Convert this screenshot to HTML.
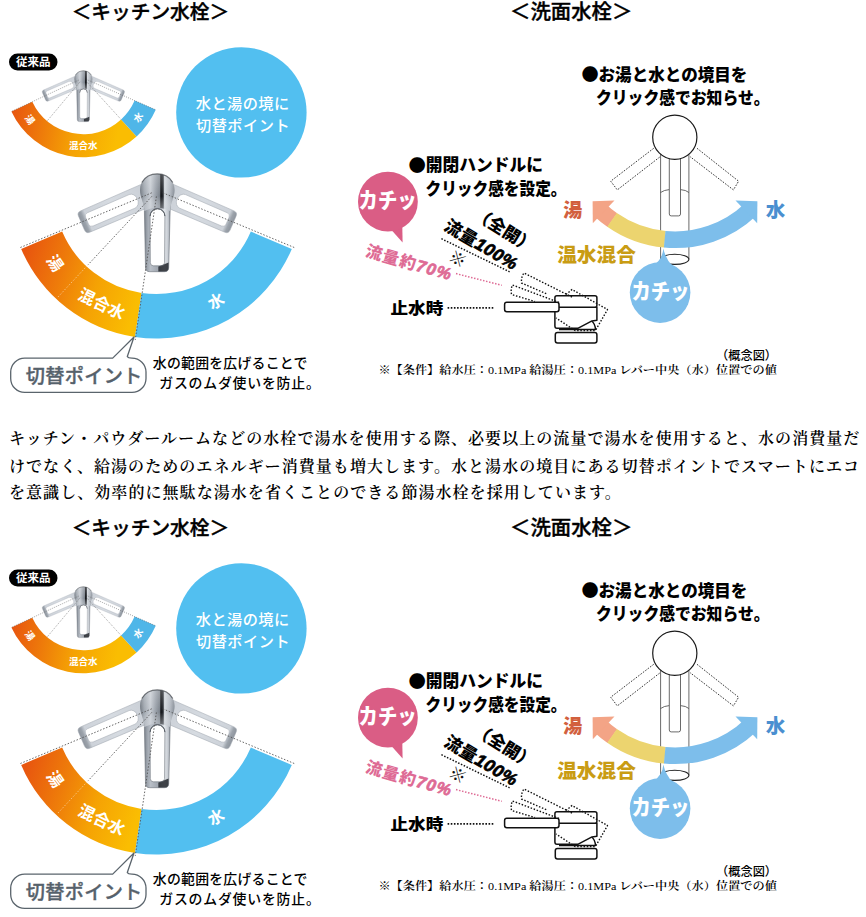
<!DOCTYPE html>
<html lang="ja"><head><meta charset="utf-8"><title>節湯水栓</title>
<style>
html,body{margin:0;padding:0;background:#fff;}
body{width:866px;height:917px;position:relative;overflow:hidden;}
.ill{position:absolute;left:0;top:0;display:block;overflow:hidden;}
.w{position:absolute;left:0;width:866px;height:401px;overflow:hidden;}
#i1{top:0;}
#i2{top:516px;}
p.t{position:absolute;left:9px;margin:0;width:860px;font-family:'Liberation Serif','Noto Serif CJK JP','Noto Serif CJK SC',serif;font-size:16px;font-weight:600;letter-spacing:1.06px;line-height:26px;color:#000;white-space:nowrap;}
</style></head><body>
<div class="w" id="i1"><svg class="ill" width="866" height="401" viewBox="0 0 866 401">
<defs>
<linearGradient id="hota" gradientUnits="userSpaceOnUse" x1="22" y1="262" x2="138" y2="300"><stop offset="0" stop-color="#e8560f"/><stop offset="0.33" stop-color="#ee7b0a"/><stop offset="0.64" stop-color="#f5a204"/><stop offset="1" stop-color="#fabd02"/></linearGradient>
<linearGradient id="hotsa" gradientUnits="userSpaceOnUse" x1="12" y1="115" x2="118" y2="135"><stop offset="0" stop-color="#e8560f"/><stop offset="0.3" stop-color="#ee7b0a"/><stop offset="0.6" stop-color="#f5a204"/><stop offset="1" stop-color="#fabd02"/></linearGradient>
<linearGradient id="chra" x1="0" y1="0" x2="1" y2="0"><stop offset="0" stop-color="#767d86"/><stop offset="0.1" stop-color="#9aa1aa"/><stop offset="0.24" stop-color="#b9bfc7"/><stop offset="0.5" stop-color="#a2a8b1"/><stop offset="0.78" stop-color="#e2e6ea"/><stop offset="0.92" stop-color="#c3c8cf"/><stop offset="1" stop-color="#7b828b"/></linearGradient>
<linearGradient id="chrha" x1="0" y1="0" x2="1" y2="0"><stop offset="0" stop-color="#6f767f"/><stop offset="0.12" stop-color="#9fa6ae"/><stop offset="0.3" stop-color="#c7ccd3"/><stop offset="0.46" stop-color="#979ea7"/><stop offset="0.57" stop-color="#7c838c"/><stop offset="0.6" stop-color="#0e1013"/><stop offset="0.67" stop-color="#262a30"/><stop offset="0.71" stop-color="#d5dadf"/><stop offset="0.86" stop-color="#b5bbc3"/><stop offset="1" stop-color="#848b94"/></linearGradient>
<linearGradient id="hsha" x1="0" y1="0" x2="0" y2="1"><stop offset="0" stop-color="#fff" stop-opacity="0.25"/><stop offset="0.6" stop-color="#fff" stop-opacity="0"/><stop offset="1" stop-color="#c9ced5" stop-opacity="0.55"/></linearGradient>
<linearGradient id="ghga" x1="0" y1="0" x2="0" y2="1"><stop offset="0" stop-color="#c2c8d0"/><stop offset="0.5" stop-color="#cfd5dc"/><stop offset="0.9" stop-color="#c5cbd3"/><stop offset="0.95" stop-color="#8b939d"/><stop offset="1" stop-color="#7b838d"/></linearGradient>
<path id="hda" d="M-13.1 10 L-11.8 77 Q-11.8 81.2 -7.5 81.2 L7.2 81.2 Q11.4 81.2 11.4 77 L13.1 10 Z M-7.2 25.6 A7.4 7.4 0 0 1 7.6 25.6 L7.3 72 Q7.3 75.3 4 75.3 L-3.8 75.3 Q-7 75.3 -7 72 Z" fill-rule="evenodd"/>
<path id="gha" d="M-12 10 L-11.6 78.5 Q-11.6 82.5 -7.6 82.5 L7.6 82.5 Q11.6 82.5 11.6 78.5 L12 10 Z M-7.4 27.5 A7.4 6 0 0 1 7.4 27.5 L7.2 73 Q7.2 76.5 3.8 76.5 L-3.8 76.5 Q-7.2 76.5 -7.2 73 Z" fill-rule="evenodd"/>
<path id="hha" d="M0 -16.6 C9.5 -16.6 17.3 -10 17.3 -0.6 C17.3 6 14 11 13.1 17.5 L13.1 20.5 Q0 13.5 -13.1 20.5 L-13.1 17.5 C-14 11 -17.3 6 -17.3 -0.6 C-17.3 -10 -9.5 -16.6 0 -16.6Z"/>
<g id="fca"><g fill="url(#ghga)" opacity="0.85"><use href="#gha" transform="rotate(66.7)"/><use href="#gha" transform="rotate(-66.7)"/></g><g fill="none" stroke="#a3a9b2" stroke-width="0.7" opacity="0.7"><use href="#gha" transform="rotate(66.7)"/><use href="#gha" transform="rotate(-66.7)"/></g><use href="#hda" fill="url(#chra)"/><path d="M1 76 L11.4 72 L11.4 77 Q11.4 81.2 7.2 81.2 L1 81.2Z" fill="#23272d" opacity="0.85"/><path d="M-7.2 25.6 A7.4 7.4 0 0 1 7.6 25.6" fill="none" stroke="#3b4047" stroke-width="1"/><use href="#hda" fill="none" stroke="#6a7079" stroke-width="0.6"/><use href="#hha" fill="url(#chrha)"/><use href="#hha" fill="url(#hsha)"/><path d="M-15.5 -8 C-12 -14 -6 -16.6 0 -16.6 C6 -16.6 12 -14 15.5 -8" fill="none" stroke="#2f343a" stroke-width="1.2" opacity="0.65"/></g>
</defs>
<text font-family="'Liberation Sans','Noto Sans CJK JP',sans-serif" font-weight="500" font-size="19.7" fill="#000" x="71.7" y="19" stroke="#000" stroke-width="0.4">＜キッチン水栓＞</text>
<text font-family="'Liberation Sans','Noto Sans CJK JP',sans-serif" font-weight="500" font-size="20.4" fill="#000" x="510" y="19" stroke="#000" stroke-width="0.4">＜洗面水栓＞</text>
<rect x="9" y="53.5" width="48.5" height="17" rx="8.5" fill="#000"/>
<text font-family="'Liberation Sans','Noto Sans CJK JP',sans-serif" font-weight="700" font-size="11.5" fill="#fff" x="33.2" y="66.3" text-anchor="middle">従来品</text>
<path d="M11.42 111.47A79.2 79.2 0 0 0 136.6 136.49L121.1 119.5A56.2 56.2 0 0 1 32.27 101.75Z" fill="url(#hotsa)"/>
<path d="M136.6 136.49A79.2 79.2 0 0 0 155.72 109.83L134.66 100.59A56.2 56.2 0 0 1 121.1 119.5Z" fill="#4fb6e8"/>
<use href="#fca" transform="translate(83.4 79.4) scale(0.52)"/>
<g stroke="#666" stroke-width="0.6" stroke-dasharray="1 1.2" fill="none">
<path d="M78.67 80.11L11.42 111.47"/>
<path d="M79.99 81.83L47.08 121.05"/>
<path d="M86.57 81.69L121.1 119.5"/>
<path d="M87.78 80.01L155.72 109.83"/>
</g>
<text font-family="'Liberation Sans','Noto Sans CJK JP',sans-serif" font-weight="700" font-size="9.5" fill="#fff" transform="translate(29.85 119.68) rotate(52)" text-anchor="middle" dominant-baseline="central">湯</text>
<text font-family="'Liberation Sans','Noto Sans CJK JP',sans-serif" font-weight="700" font-size="9.5" fill="#fff" transform="translate(83.2 145.7) rotate(0)" text-anchor="middle" dominant-baseline="central">混合水</text>
<text font-family="'Liberation Sans','Noto Sans CJK JP',sans-serif" font-weight="700" font-size="9.5" fill="#fff" transform="translate(138.25 117.41) rotate(-54.4)" text-anchor="middle" dominant-baseline="central">水</text>
<circle cx="241.4" cy="112.4" r="65.2" fill="#52bff0"/>
<text font-family="'Liberation Sans','Noto Sans CJK JP',sans-serif" font-weight="500" font-size="15.2" fill="#fff" x="195.8" y="109.4" textLength="93.4">水と湯の境に</text>
<text font-family="'Liberation Sans','Noto Sans CJK JP',sans-serif" font-weight="500" font-size="15.2" fill="#fff" x="196" y="130.5" textLength="93.6">切替ポイント</text>
<path d="M21.19 248.94A147 147 0 0 0 135.03 336.92L141.53 292.9A102.5 102.5 0 0 1 62.15 231.55Z" fill="url(#hota)"/>
<path d="M135.03 336.92A147 147 0 0 0 291.81 248.94L250.85 231.55A102.5 102.5 0 0 1 141.53 292.9Z" fill="#52bff0"/>
<use href="#fca" transform="translate(157.3 190.5)"/>
<g stroke="#555" stroke-width="0.9" stroke-dasharray="1.5 1.7" fill="none">
<path d="M151.76 192.81L18.82 248.14"/>
<path d="M162.84 192.81L295.78 248.14"/>
<path d="M151.84 196.35L88.08 264.73"/>
<path d="M87.4 265.46L57.05 298.01" stroke="#fbe3c0" opacity="0.7"/>
<path d="M156.42 196.44L135.24 339.88"/>
</g>
<text font-family="'Liberation Sans','Noto Sans CJK JP',sans-serif" font-weight="700" font-size="16" fill="#fff" transform="translate(54.77 263.27) rotate(54.8)" text-anchor="middle" dominant-baseline="central">湯</text>
<text font-family="'Liberation Sans','Noto Sans CJK JP',sans-serif" font-weight="700" font-size="16.5" fill="#fff" transform="translate(101.7 303.85) rotate(26)" text-anchor="middle" dominant-baseline="central">混合水</text>
<text font-family="'Liberation Sans','Noto Sans CJK JP',sans-serif" font-weight="700" font-size="16" fill="#fff" transform="translate(216.14 301.35) rotate(-28.5)" text-anchor="middle" dominant-baseline="central">水</text>
<path d="M24.7 358.1 H112.7 L134 337 L127.3 356.5 Q128 358.1 132 358.1 A14 14 0 0 1 146 372.1 V378.4 A14 14 0 0 1 132 392.4 H24.7 A14 14 0 0 1 10.7 378.4 V372.1 A14 14 0 0 1 24.7 358.1Z" fill="#fff" stroke="#5a646c" stroke-width="1.3" stroke-linejoin="round"/>
<text font-family="'Liberation Sans','Noto Sans CJK JP',sans-serif" font-weight="500" font-size="19.2" fill="#56616b" x="25.8" y="383" textLength="116.5" stroke="#56616b" stroke-width="0.35">切替ポイント</text>
<text font-family="'Liberation Sans','Noto Sans CJK JP',sans-serif" font-weight="500" font-size="13.9" fill="#000" x="152.8" y="367.9" textLength="154.6">水の範囲を広げることで</text>
<text font-family="'Liberation Sans','Noto Sans CJK JP',sans-serif" font-weight="500" font-size="13.9" fill="#000" x="159.3" y="387.8" textLength="160.5">ガスのムダ使いを防止。</text>
<text font-family="'Liberation Sans','Noto Sans CJK JP',sans-serif" font-weight="900" font-size="17" fill="#000" x="581.4" y="81" textLength="166" lengthAdjust="spacingAndGlyphs"><tspan font-family="'Noto Sans CJK JP','Liberation Sans',sans-serif" font-size="17.6" dy="0.3">●</tspan><tspan dy="-0.3">お湯と水との境目を</tspan></text>
<text font-family="'Liberation Sans','Noto Sans CJK JP',sans-serif" font-weight="900" font-size="17.5" fill="#000" x="596" y="104.3" textLength="173.5" lengthAdjust="spacingAndGlyphs">クリック感でお知らせ。</text>
<text font-family="'Liberation Sans','Noto Sans CJK JP',sans-serif" font-weight="900" font-size="17" fill="#000" x="408.5" y="171.3" textLength="134.5" lengthAdjust="spacingAndGlyphs"><tspan font-family="'Noto Sans CJK JP','Liberation Sans',sans-serif" font-size="17.6" dy="0.3">●</tspan><tspan dy="-0.3">開閉ハンドルに</tspan></text>
<text font-family="'Liberation Sans','Noto Sans CJK JP',sans-serif" font-weight="900" font-size="17.6" fill="#000" x="425.5" y="195.4" textLength="141" lengthAdjust="spacingAndGlyphs">クリック感を設定。</text>
<g fill="none" stroke="#444" stroke-width="0.8">
<path d="M660.6 154 V259.3 M688.9 259.3 V154"/>
<ellipse cx="674.75" cy="259.3" rx="14.15" ry="5.1" stroke="#222" stroke-width="1.1"/>
<path d="M660.6 192.5 Q664 190 669.3 189.6 M680.5 189.6 Q686 190 688.9 192.5"/>
<path d="M669.3 158 V214 Q669.3 215.9 671.2 215.9 H678.6 Q680.5 215.9 680.5 214 V158" fill="#fff"/>
</g>
<g fill="#fff" stroke="#222" stroke-width="0.9" stroke-dasharray="1.6 1.4">
<path d="M653.7 148.3 L610.7 181.2 L617.3 189.9 L659.8 157"/>
<path d="M697 148.3 L738.6 181.2 L733.4 189.9 L690 156.6"/>
</g>
<circle cx="674.8" cy="137.3" r="22.1" fill="#fff" stroke="#1a1a1a" stroke-width="1.2"/>
<path d="M593.71 215.67A118.1 118.1 0 0 0 607.6 226.98L617.13 213.26A101.4 101.4 0 0 1 605.2 203.55Z" fill="#f3a486"/><path d="M614.48 200.61L592.61 201.37L592.8 223.24Z" fill="#f3a486"/>
<path d="M607.26 226.74A118.1 118.1 0 0 0 664.3 247.61L665.81 230.98A101.4 101.4 0 0 1 616.84 213.06Z" fill="#ecd46f"/>
<path d="M663.89 247.58A118.1 118.1 0 0 0 756.29 215.67L744.8 203.55A101.4 101.4 0 0 1 665.46 230.95Z" fill="#7dbeeb"/><path d="M735.52 200.61L757.39 201.37L757.2 223.24Z" fill="#7dbeeb"/>
<text font-family="'Liberation Sans','Noto Sans CJK JP',sans-serif" font-weight="900" font-size="19" fill="#d2603e" x="563.3" y="216.6">湯</text>
<text font-family="'Liberation Sans','Noto Sans CJK JP',sans-serif" font-weight="900" font-size="19.5" fill="#4a8fd0" x="765.8" y="216.8">水</text>
<text font-family="'Liberation Sans','Noto Sans CJK JP',sans-serif" font-weight="900" font-size="19.7" fill="#c99c14" x="557.2" y="262.4">温水混合</text>
<path d="M663.3 248.6 Q662.8 259.5 652 266.5 L673 266.5 Q665.8 259.5 663.3 248.6Z" fill="#7dbeeb"/>
<circle cx="660.1" cy="292.6" r="30.3" fill="#7dbeeb"/>
<text font-family="'Liberation Sans','Noto Sans CJK JP',sans-serif" font-weight="900" font-size="21.4" fill="#fff" x="631.4" y="298.6" textLength="58" lengthAdjust="spacingAndGlyphs">カチッ</text>
<path d="M391 229.5 L402.6 242.6 L402.3 226Z" fill="#da5d85"/>
<circle cx="387.9" cy="201.7" r="29.9" fill="#da5d85"/>
<text font-family="'Liberation Sans','Noto Sans CJK JP',sans-serif" font-weight="900" font-size="21.4" fill="#fff" x="358.6" y="208.4" textLength="58" lengthAdjust="spacingAndGlyphs">カチッ</text>
<text font-family="'Liberation Sans','Noto Sans CJK JP',sans-serif" font-weight="900" font-size="16.5" fill="#de6b95" transform="translate(364.4 256.1) rotate(15.8)" textLength="88.2">流量約<tspan font-weight="700" font-style="italic" stroke="#de6b95" stroke-width="0.7">70%</tspan></text>
<text font-family="'Liberation Sans','Noto Sans CJK JP',sans-serif" font-weight="900" font-size="17.4" fill="#000" transform="translate(442.7 229.2) rotate(30.3)" textLength="81.6">流量<tspan font-weight="700" font-style="italic" stroke="#000" stroke-width="0.7">100%</tspan></text>
<text font-family="'Liberation Sans','Noto Sans CJK JP',sans-serif" font-weight="900" font-size="17" fill="#000" transform="translate(472.3 217.3) rotate(32)">（全開）</text>
<path d="M441.4 238.7 L509.6 271.8" stroke="#111" stroke-width="1.5" stroke-dasharray="1.5 1.6" fill="none"/>
<path d="M456 273.6 L501.8 285.3" stroke="#de6b95" stroke-width="1.5" stroke-dasharray="1.5 1.6" fill="none"/>
<text font-family="'Liberation Sans','Noto Sans CJK JP',sans-serif" font-weight="400" font-size="17" fill="#111" transform="translate(457.3 259.6) rotate(30)" text-anchor="middle" dominant-baseline="central">※</text>
<text font-family="'Liberation Sans','Noto Sans CJK JP',sans-serif" font-weight="900" font-size="16" fill="#000" x="390.6" y="313.6" textLength="52.6" lengthAdjust="spacingAndGlyphs">止水時</text>
<path d="M447.6 307.8 H494.6" stroke="#111" stroke-width="1.7" stroke-dasharray="1.6 1.55" fill="none"/>
<g fill="#fff" stroke="#111" stroke-width="1.5" stroke-linejoin="round">
<rect x="555.3" y="332.5" width="41.6" height="10.4" rx="2.2"/>
<path d="M559 329.4 H595.5 Q595 323.5 591.5 321"/>
<path d="M554.9 307.3 H596.9 V320.3 L592 320.9 L577.8 328.3 H557 Q554.9 328.3 554.9 326Z"/>
<rect x="554.9" y="295.7" width="42" height="11.6" rx="2"/>
<rect x="504.6" y="302.3" width="54.4" height="9.5" rx="2.2"/>
</g>
<g fill="none" stroke="#111" stroke-width="1.4" stroke-dasharray="1.5 1.7" stroke-linejoin="round">
<path d="M559 302.5 L512.5 285 Q510.5 289 511.5 294.5 L535 301.5"/>
<path d="M572 297 L524 273 Q521 277 521.5 283 L547 294"/>
<path d="M566 294.5 L572 289.5 L607.5 309.5 L595.5 330.5 H575 L556 318"/>
</g>
<text font-family="'Liberation Sans','Noto Sans CJK JP',sans-serif" font-weight="500" font-size="12.2" fill="#000" x="716.1" y="359.5">（概念図）</text>
<text font-family="'Liberation Serif','Noto Serif CJK JP','Noto Serif CJK SC',serif" font-weight="600" font-size="11.3" fill="#000" x="378.4" y="374" textLength="398.5" lengthAdjust="spacingAndGlyphs">※【条件】給水圧：<tspan font-weight="400">0.1MPa</tspan> 給湯圧：<tspan font-weight="400">0.1MPa</tspan> レバー中央（水）位置での値</text>
</svg></div>
<p class="t" style="top:426px">キッチン・パウダールームなどの水栓で湯水を使用する際、必要以上の流量で湯水を使用すると、水の消費量だ</p>
<p class="t" style="top:453.5px">けでなく、給湯のためのエネルギー消費量も増大します。水と湯水の境目にある切替ポイントでスマートにエコ</p>
<p class="t" style="top:480.4px">を意識し、効率的に無駄な湯水を省くことのできる節湯水栓を採用しています。</p>
<div class="w" id="i2"><svg class="ill" width="866" height="401" viewBox="0 0 866 401">
<defs>
<linearGradient id="hotb" gradientUnits="userSpaceOnUse" x1="22" y1="262" x2="138" y2="300"><stop offset="0" stop-color="#e8560f"/><stop offset="0.33" stop-color="#ee7b0a"/><stop offset="0.64" stop-color="#f5a204"/><stop offset="1" stop-color="#fabd02"/></linearGradient>
<linearGradient id="hotsb" gradientUnits="userSpaceOnUse" x1="12" y1="115" x2="118" y2="135"><stop offset="0" stop-color="#e8560f"/><stop offset="0.3" stop-color="#ee7b0a"/><stop offset="0.6" stop-color="#f5a204"/><stop offset="1" stop-color="#fabd02"/></linearGradient>
<linearGradient id="chrb" x1="0" y1="0" x2="1" y2="0"><stop offset="0" stop-color="#767d86"/><stop offset="0.1" stop-color="#9aa1aa"/><stop offset="0.24" stop-color="#b9bfc7"/><stop offset="0.5" stop-color="#a2a8b1"/><stop offset="0.78" stop-color="#e2e6ea"/><stop offset="0.92" stop-color="#c3c8cf"/><stop offset="1" stop-color="#7b828b"/></linearGradient>
<linearGradient id="chrhb" x1="0" y1="0" x2="1" y2="0"><stop offset="0" stop-color="#6f767f"/><stop offset="0.12" stop-color="#9fa6ae"/><stop offset="0.3" stop-color="#c7ccd3"/><stop offset="0.46" stop-color="#979ea7"/><stop offset="0.57" stop-color="#7c838c"/><stop offset="0.6" stop-color="#0e1013"/><stop offset="0.67" stop-color="#262a30"/><stop offset="0.71" stop-color="#d5dadf"/><stop offset="0.86" stop-color="#b5bbc3"/><stop offset="1" stop-color="#848b94"/></linearGradient>
<linearGradient id="hshb" x1="0" y1="0" x2="0" y2="1"><stop offset="0" stop-color="#fff" stop-opacity="0.25"/><stop offset="0.6" stop-color="#fff" stop-opacity="0"/><stop offset="1" stop-color="#c9ced5" stop-opacity="0.55"/></linearGradient>
<linearGradient id="ghgb" x1="0" y1="0" x2="0" y2="1"><stop offset="0" stop-color="#c2c8d0"/><stop offset="0.5" stop-color="#cfd5dc"/><stop offset="0.9" stop-color="#c5cbd3"/><stop offset="0.95" stop-color="#8b939d"/><stop offset="1" stop-color="#7b838d"/></linearGradient>
<path id="hdb" d="M-13.1 10 L-11.8 77 Q-11.8 81.2 -7.5 81.2 L7.2 81.2 Q11.4 81.2 11.4 77 L13.1 10 Z M-7.2 25.6 A7.4 7.4 0 0 1 7.6 25.6 L7.3 72 Q7.3 75.3 4 75.3 L-3.8 75.3 Q-7 75.3 -7 72 Z" fill-rule="evenodd"/>
<path id="ghb" d="M-12 10 L-11.6 78.5 Q-11.6 82.5 -7.6 82.5 L7.6 82.5 Q11.6 82.5 11.6 78.5 L12 10 Z M-7.4 27.5 A7.4 6 0 0 1 7.4 27.5 L7.2 73 Q7.2 76.5 3.8 76.5 L-3.8 76.5 Q-7.2 76.5 -7.2 73 Z" fill-rule="evenodd"/>
<path id="hhb" d="M0 -16.6 C9.5 -16.6 17.3 -10 17.3 -0.6 C17.3 6 14 11 13.1 17.5 L13.1 20.5 Q0 13.5 -13.1 20.5 L-13.1 17.5 C-14 11 -17.3 6 -17.3 -0.6 C-17.3 -10 -9.5 -16.6 0 -16.6Z"/>
<g id="fcb"><g fill="url(#ghgb)" opacity="0.85"><use href="#ghb" transform="rotate(66.7)"/><use href="#ghb" transform="rotate(-66.7)"/></g><g fill="none" stroke="#a3a9b2" stroke-width="0.7" opacity="0.7"><use href="#ghb" transform="rotate(66.7)"/><use href="#ghb" transform="rotate(-66.7)"/></g><use href="#hdb" fill="url(#chrb)"/><path d="M1 76 L11.4 72 L11.4 77 Q11.4 81.2 7.2 81.2 L1 81.2Z" fill="#23272d" opacity="0.85"/><path d="M-7.2 25.6 A7.4 7.4 0 0 1 7.6 25.6" fill="none" stroke="#3b4047" stroke-width="1"/><use href="#hdb" fill="none" stroke="#6a7079" stroke-width="0.6"/><use href="#hhb" fill="url(#chrhb)"/><use href="#hhb" fill="url(#hshb)"/><path d="M-15.5 -8 C-12 -14 -6 -16.6 0 -16.6 C6 -16.6 12 -14 15.5 -8" fill="none" stroke="#2f343a" stroke-width="1.2" opacity="0.65"/></g>
</defs>
<text font-family="'Liberation Sans','Noto Sans CJK JP',sans-serif" font-weight="500" font-size="19.7" fill="#000" x="71.7" y="19" stroke="#000" stroke-width="0.4">＜キッチン水栓＞</text>
<text font-family="'Liberation Sans','Noto Sans CJK JP',sans-serif" font-weight="500" font-size="20.4" fill="#000" x="510" y="19" stroke="#000" stroke-width="0.4">＜洗面水栓＞</text>
<rect x="9" y="53.5" width="48.5" height="17" rx="8.5" fill="#000"/>
<text font-family="'Liberation Sans','Noto Sans CJK JP',sans-serif" font-weight="700" font-size="11.5" fill="#fff" x="33.2" y="66.3" text-anchor="middle">従来品</text>
<path d="M11.42 111.47A79.2 79.2 0 0 0 136.6 136.49L121.1 119.5A56.2 56.2 0 0 1 32.27 101.75Z" fill="url(#hotsb)"/>
<path d="M136.6 136.49A79.2 79.2 0 0 0 155.72 109.83L134.66 100.59A56.2 56.2 0 0 1 121.1 119.5Z" fill="#4fb6e8"/>
<use href="#fcb" transform="translate(83.4 79.4) scale(0.52)"/>
<g stroke="#666" stroke-width="0.6" stroke-dasharray="1 1.2" fill="none">
<path d="M78.67 80.11L11.42 111.47"/>
<path d="M79.99 81.83L47.08 121.05"/>
<path d="M86.57 81.69L121.1 119.5"/>
<path d="M87.78 80.01L155.72 109.83"/>
</g>
<text font-family="'Liberation Sans','Noto Sans CJK JP',sans-serif" font-weight="700" font-size="9.5" fill="#fff" transform="translate(29.85 119.68) rotate(52)" text-anchor="middle" dominant-baseline="central">湯</text>
<text font-family="'Liberation Sans','Noto Sans CJK JP',sans-serif" font-weight="700" font-size="9.5" fill="#fff" transform="translate(83.2 145.7) rotate(0)" text-anchor="middle" dominant-baseline="central">混合水</text>
<text font-family="'Liberation Sans','Noto Sans CJK JP',sans-serif" font-weight="700" font-size="9.5" fill="#fff" transform="translate(138.25 117.41) rotate(-54.4)" text-anchor="middle" dominant-baseline="central">水</text>
<circle cx="241.4" cy="112.4" r="65.2" fill="#52bff0"/>
<text font-family="'Liberation Sans','Noto Sans CJK JP',sans-serif" font-weight="500" font-size="15.2" fill="#fff" x="195.8" y="109.4" textLength="93.4">水と湯の境に</text>
<text font-family="'Liberation Sans','Noto Sans CJK JP',sans-serif" font-weight="500" font-size="15.2" fill="#fff" x="196" y="130.5" textLength="93.6">切替ポイント</text>
<path d="M21.19 248.94A147 147 0 0 0 135.03 336.92L141.53 292.9A102.5 102.5 0 0 1 62.15 231.55Z" fill="url(#hotb)"/>
<path d="M135.03 336.92A147 147 0 0 0 291.81 248.94L250.85 231.55A102.5 102.5 0 0 1 141.53 292.9Z" fill="#52bff0"/>
<use href="#fcb" transform="translate(157.3 190.5)"/>
<g stroke="#555" stroke-width="0.9" stroke-dasharray="1.5 1.7" fill="none">
<path d="M151.76 192.81L18.82 248.14"/>
<path d="M162.84 192.81L295.78 248.14"/>
<path d="M151.84 196.35L88.08 264.73"/>
<path d="M87.4 265.46L57.05 298.01" stroke="#fbe3c0" opacity="0.7"/>
<path d="M156.42 196.44L135.24 339.88"/>
</g>
<text font-family="'Liberation Sans','Noto Sans CJK JP',sans-serif" font-weight="700" font-size="16" fill="#fff" transform="translate(54.77 263.27) rotate(54.8)" text-anchor="middle" dominant-baseline="central">湯</text>
<text font-family="'Liberation Sans','Noto Sans CJK JP',sans-serif" font-weight="700" font-size="16.5" fill="#fff" transform="translate(101.7 303.85) rotate(26)" text-anchor="middle" dominant-baseline="central">混合水</text>
<text font-family="'Liberation Sans','Noto Sans CJK JP',sans-serif" font-weight="700" font-size="16" fill="#fff" transform="translate(216.14 301.35) rotate(-28.5)" text-anchor="middle" dominant-baseline="central">水</text>
<path d="M24.7 358.1 H112.7 L134 337 L127.3 356.5 Q128 358.1 132 358.1 A14 14 0 0 1 146 372.1 V378.4 A14 14 0 0 1 132 392.4 H24.7 A14 14 0 0 1 10.7 378.4 V372.1 A14 14 0 0 1 24.7 358.1Z" fill="#fff" stroke="#5a646c" stroke-width="1.3" stroke-linejoin="round"/>
<text font-family="'Liberation Sans','Noto Sans CJK JP',sans-serif" font-weight="500" font-size="19.2" fill="#56616b" x="25.8" y="383" textLength="116.5" stroke="#56616b" stroke-width="0.35">切替ポイント</text>
<text font-family="'Liberation Sans','Noto Sans CJK JP',sans-serif" font-weight="500" font-size="13.9" fill="#000" x="152.8" y="367.9" textLength="154.6">水の範囲を広げることで</text>
<text font-family="'Liberation Sans','Noto Sans CJK JP',sans-serif" font-weight="500" font-size="13.9" fill="#000" x="159.3" y="387.8" textLength="160.5">ガスのムダ使いを防止。</text>
<text font-family="'Liberation Sans','Noto Sans CJK JP',sans-serif" font-weight="900" font-size="17" fill="#000" x="581.4" y="81" textLength="166" lengthAdjust="spacingAndGlyphs"><tspan font-family="'Noto Sans CJK JP','Liberation Sans',sans-serif" font-size="17.6" dy="0.3">●</tspan><tspan dy="-0.3">お湯と水との境目を</tspan></text>
<text font-family="'Liberation Sans','Noto Sans CJK JP',sans-serif" font-weight="900" font-size="17.5" fill="#000" x="596" y="104.3" textLength="173.5" lengthAdjust="spacingAndGlyphs">クリック感でお知らせ。</text>
<text font-family="'Liberation Sans','Noto Sans CJK JP',sans-serif" font-weight="900" font-size="17" fill="#000" x="408.5" y="171.3" textLength="134.5" lengthAdjust="spacingAndGlyphs"><tspan font-family="'Noto Sans CJK JP','Liberation Sans',sans-serif" font-size="17.6" dy="0.3">●</tspan><tspan dy="-0.3">開閉ハンドルに</tspan></text>
<text font-family="'Liberation Sans','Noto Sans CJK JP',sans-serif" font-weight="900" font-size="17.6" fill="#000" x="425.5" y="195.4" textLength="141" lengthAdjust="spacingAndGlyphs">クリック感を設定。</text>
<g fill="none" stroke="#444" stroke-width="0.8">
<path d="M660.6 154 V259.3 M688.9 259.3 V154"/>
<ellipse cx="674.75" cy="259.3" rx="14.15" ry="5.1" stroke="#222" stroke-width="1.1"/>
<path d="M660.6 192.5 Q664 190 669.3 189.6 M680.5 189.6 Q686 190 688.9 192.5"/>
<path d="M669.3 158 V214 Q669.3 215.9 671.2 215.9 H678.6 Q680.5 215.9 680.5 214 V158" fill="#fff"/>
</g>
<g fill="#fff" stroke="#222" stroke-width="0.9" stroke-dasharray="1.6 1.4">
<path d="M653.7 148.3 L610.7 181.2 L617.3 189.9 L659.8 157"/>
<path d="M697 148.3 L738.6 181.2 L733.4 189.9 L690 156.6"/>
</g>
<circle cx="674.8" cy="137.3" r="22.1" fill="#fff" stroke="#1a1a1a" stroke-width="1.2"/>
<path d="M593.71 215.67A118.1 118.1 0 0 0 607.6 226.98L617.13 213.26A101.4 101.4 0 0 1 605.2 203.55Z" fill="#f3a486"/><path d="M614.48 200.61L592.61 201.37L592.8 223.24Z" fill="#f3a486"/>
<path d="M607.26 226.74A118.1 118.1 0 0 0 664.3 247.61L665.81 230.98A101.4 101.4 0 0 1 616.84 213.06Z" fill="#ecd46f"/>
<path d="M663.89 247.58A118.1 118.1 0 0 0 756.29 215.67L744.8 203.55A101.4 101.4 0 0 1 665.46 230.95Z" fill="#7dbeeb"/><path d="M735.52 200.61L757.39 201.37L757.2 223.24Z" fill="#7dbeeb"/>
<text font-family="'Liberation Sans','Noto Sans CJK JP',sans-serif" font-weight="900" font-size="19" fill="#d2603e" x="563.3" y="216.6">湯</text>
<text font-family="'Liberation Sans','Noto Sans CJK JP',sans-serif" font-weight="900" font-size="19.5" fill="#4a8fd0" x="765.8" y="216.8">水</text>
<text font-family="'Liberation Sans','Noto Sans CJK JP',sans-serif" font-weight="900" font-size="19.7" fill="#c99c14" x="557.2" y="262.4">温水混合</text>
<path d="M663.3 248.6 Q662.8 259.5 652 266.5 L673 266.5 Q665.8 259.5 663.3 248.6Z" fill="#7dbeeb"/>
<circle cx="660.1" cy="292.6" r="30.3" fill="#7dbeeb"/>
<text font-family="'Liberation Sans','Noto Sans CJK JP',sans-serif" font-weight="900" font-size="21.4" fill="#fff" x="631.4" y="298.6" textLength="58" lengthAdjust="spacingAndGlyphs">カチッ</text>
<path d="M391 229.5 L402.6 242.6 L402.3 226Z" fill="#da5d85"/>
<circle cx="387.9" cy="201.7" r="29.9" fill="#da5d85"/>
<text font-family="'Liberation Sans','Noto Sans CJK JP',sans-serif" font-weight="900" font-size="21.4" fill="#fff" x="358.6" y="208.4" textLength="58" lengthAdjust="spacingAndGlyphs">カチッ</text>
<text font-family="'Liberation Sans','Noto Sans CJK JP',sans-serif" font-weight="900" font-size="16.5" fill="#de6b95" transform="translate(364.4 256.1) rotate(15.8)" textLength="88.2">流量約<tspan font-weight="700" font-style="italic" stroke="#de6b95" stroke-width="0.7">70%</tspan></text>
<text font-family="'Liberation Sans','Noto Sans CJK JP',sans-serif" font-weight="900" font-size="17.4" fill="#000" transform="translate(442.7 229.2) rotate(30.3)" textLength="81.6">流量<tspan font-weight="700" font-style="italic" stroke="#000" stroke-width="0.7">100%</tspan></text>
<text font-family="'Liberation Sans','Noto Sans CJK JP',sans-serif" font-weight="900" font-size="17" fill="#000" transform="translate(472.3 217.3) rotate(32)">（全開）</text>
<path d="M441.4 238.7 L509.6 271.8" stroke="#111" stroke-width="1.5" stroke-dasharray="1.5 1.6" fill="none"/>
<path d="M456 273.6 L501.8 285.3" stroke="#de6b95" stroke-width="1.5" stroke-dasharray="1.5 1.6" fill="none"/>
<text font-family="'Liberation Sans','Noto Sans CJK JP',sans-serif" font-weight="400" font-size="17" fill="#111" transform="translate(457.3 259.6) rotate(30)" text-anchor="middle" dominant-baseline="central">※</text>
<text font-family="'Liberation Sans','Noto Sans CJK JP',sans-serif" font-weight="900" font-size="16" fill="#000" x="390.6" y="313.6" textLength="52.6" lengthAdjust="spacingAndGlyphs">止水時</text>
<path d="M447.6 307.8 H494.6" stroke="#111" stroke-width="1.7" stroke-dasharray="1.6 1.55" fill="none"/>
<g fill="#fff" stroke="#111" stroke-width="1.5" stroke-linejoin="round">
<rect x="555.3" y="332.5" width="41.6" height="10.4" rx="2.2"/>
<path d="M559 329.4 H595.5 Q595 323.5 591.5 321"/>
<path d="M554.9 307.3 H596.9 V320.3 L592 320.9 L577.8 328.3 H557 Q554.9 328.3 554.9 326Z"/>
<rect x="554.9" y="295.7" width="42" height="11.6" rx="2"/>
<rect x="504.6" y="302.3" width="54.4" height="9.5" rx="2.2"/>
</g>
<g fill="none" stroke="#111" stroke-width="1.4" stroke-dasharray="1.5 1.7" stroke-linejoin="round">
<path d="M559 302.5 L512.5 285 Q510.5 289 511.5 294.5 L535 301.5"/>
<path d="M572 297 L524 273 Q521 277 521.5 283 L547 294"/>
<path d="M566 294.5 L572 289.5 L607.5 309.5 L595.5 330.5 H575 L556 318"/>
</g>
<text font-family="'Liberation Sans','Noto Sans CJK JP',sans-serif" font-weight="500" font-size="12.2" fill="#000" x="716.1" y="359.5">（概念図）</text>
<text font-family="'Liberation Serif','Noto Serif CJK JP','Noto Serif CJK SC',serif" font-weight="600" font-size="11.3" fill="#000" x="378.4" y="374" textLength="398.5" lengthAdjust="spacingAndGlyphs">※【条件】給水圧：<tspan font-weight="400">0.1MPa</tspan> 給湯圧：<tspan font-weight="400">0.1MPa</tspan> レバー中央（水）位置での値</text>
</svg></div>
</body></html>
